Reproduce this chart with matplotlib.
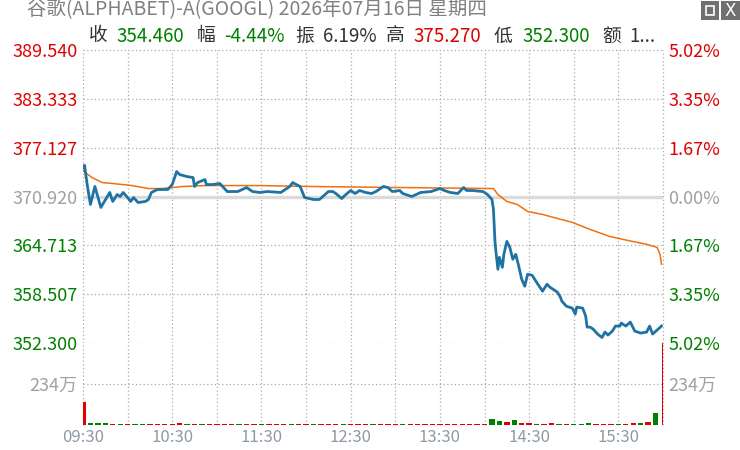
import matplotlib
matplotlib.use('Agg')
import matplotlib.pyplot as plt
from matplotlib.patches import Rectangle
import numpy as np

plt.rcParams['font.family'] = ['Noto Sans CJK SC', 'DejaVu Sans']

#-------Dados-------#

titulo = '谷歌(ALPHABET)-A(GOOGL) 2026年07月16日 星期四'

# minutos desde 09:30 e preço
preco_t = [0, 1, 3, 5, 8, 12, 18, 20, 23, 25, 27, 30, 32, 34, 37, 42, 44, 46, 50, 57,
           60, 63, 65, 70, 74, 75, 77, 82, 83, 87, 92, 97, 104, 110, 114, 119, 124, 133, 139, 141,
           146, 149, 155, 159, 165, 168, 170, 174, 176, 180, 183, 186, 190, 194, 197, 202, 205, 208, 213, 215,
           221, 224, 227, 234, 240, 243, 247, 252, 256, 258, 262, 269, 272, 275, 276, 277, 278, 279, 280, 282,
           283, 285, 287, 289, 291, 293, 295, 297, 299, 302, 305, 309, 312, 314, 319, 321, 322, 325, 329, 331,
           332, 336, 338, 339, 341, 343, 346, 349, 351, 353, 356, 358, 361, 362, 365, 368, 371, 375, 379, 381,
           383, 386, 389]
preco = [374.60, 374.90, 372.20, 369.91, 372.19, 369.53, 371.43, 370.29, 371.17, 370.92, 371.43, 370.79, 370.29, 370.79, 370.16, 370.29, 370.54, 371.43, 371.81, 371.81,
         372.44, 374.09, 373.71, 373.45, 373.33, 372.19, 372.69, 373.07, 372.44, 372.44, 372.57, 371.55, 371.55, 372.06, 371.55, 371.43, 371.55, 371.43, 372.19, 372.69,
         372.19, 370.79, 370.54, 370.54, 371.55, 371.55, 371.30, 370.66, 371.05, 371.68, 371.30, 371.68, 371.43, 371.30, 371.55, 372.19, 372.06, 371.55, 371.68, 371.30,
         370.92, 371.17, 371.43, 371.55, 371.93, 371.68, 371.43, 371.30, 372.06, 371.68, 371.68, 371.55, 371.17, 370.54, 369.27, 365.22, 363.32, 361.67, 363.19, 361.92,
         363.57, 365.22, 364.46, 362.94, 363.57, 362.05, 360.40, 359.52, 361.04, 360.91, 360.02, 358.88, 359.77, 359.39, 358.76, 358.12, 357.62, 356.98, 356.73, 355.97,
         356.86, 356.73, 355.72, 354.32, 354.32, 354.07, 353.44, 353.00, 353.69, 353.31, 353.82, 354.45, 354.45, 354.83, 354.45, 354.96, 353.82, 353.56, 353.69, 354.45,
         353.44, 353.94, 354.46]

# preço médio
media_t = [0, 6, 13, 20, 33, 44, 53, 60, 67, 83, 118, 154, 213, 276, 279, 285, 292, 299, 309, 319,
           329, 341, 354, 366, 379, 386, 388, 389]
media = [374.21, 373.33, 372.69, 372.57, 372.31, 371.93, 371.93, 372.06, 372.19, 372.31, 372.31, 372.19, 372.06, 371.93, 371.17, 370.29, 369.91, 369.02, 368.64, 368.13,
         367.63, 366.74, 365.85, 365.35, 364.84, 364.46, 363.57, 362.31]

# volume (万), um valor a cada 5 minutos; R = sobe, G = desce
vol_t = list(range(0, 390, 5)) + [389.5]
vol = [131, 10, 11, 9, 8, 7, 7, 8, 7, 6, 7, 6, 7, 9, 8, 8, 7, 8, 6, 6,
       6, 6, 6, 6, 6, 7, 6, 6, 6, 7, 6, 6, 6, 6, 6, 7, 6, 6, 7, 6,
       6, 6, 6, 6, 6, 6, 6, 6, 6, 6, 6, 6, 6, 6, 7, 34, 25, 15, 28, 13,
       9, 7, 8, 9, 7, 7, 8, 6, 9, 6, 7, 6, 6, 7, 10, 9, 17, 68, 468]
vol_dir = 'RGGGRGRGGRRRRRGRGRRRRGRRGRRRGRRGRRRGRRRGRRRGRRRRRRRRRRRGGRGRRGRRGRGGGRRRGRRGRGR'

preco_ticks = [389.540, 383.333, 377.127, 370.920, 364.713, 358.507, 352.300]
preco_labels = ['389.540', '383.333', '377.127', '370.920', '364.713', '358.507', '352.300']
pct_labels = ['5.02%', '3.35%', '1.67%', '0.00%', '1.67%', '3.35%', '5.02%']
fecho_ant = 370.920

hora_ticks = [0, 60, 120, 180, 240, 300, 360]
hora_labels = ['09:30', '10:30', '11:30', '12:30', '13:30', '14:30', '15:30']

# linha de informações: (texto, x em pixels, cor)
info = [('收', 89, 'k'), ('354.460', 116, 'g'), ('幅', 197, 'k'), ('-4.44%', 224, 'g'),
        ('振', 295, 'k'), ('6.19%', 323, 'k'), ('高', 386, 'k'), ('375.270', 413, 'r'),
        ('低', 494, 'k'), ('352.300', 522, 'g'), ('额', 602, 'k'), ('1...', 629, 'k')]

#-------Gráfico-------#

W, H = 740, 450
VERMELHO = '#e00000'
VERDE = '#008000'
CINZA = '#a0a0a0'
cores_info = {'k': '#333333', 'g': VERDE, 'r': VERMELHO}
pontilhado = (0, (1, 2))

fig = plt.figure(figsize=(W / 100, H / 100), dpi=100)
fig.patch.set_facecolor('white')

ax = fig.add_axes([83 / W, 1 - 343 / H, 580 / W, 293 / H])
axv = fig.add_axes([83 / W, 1 - 425 / H, 580 / W, 82 / H])

for a in (ax, axv):
    a.set_xlim(0, 390)
    for s in a.spines.values():
        s.set_visible(False)
    for t in list(range(0, 391, 30)):
        a.axvline(t, color='#aaaaaa', lw=0.9, ls=pontilhado, clip_on=False, zorder=1)

ax.set_ylim(352.300, 389.540)
for v in preco_ticks:
    if v == fecho_ant:
        ax.axhline(v, color='#dadada', lw=2.4, zorder=1)
    else:
        ax.axhline(v, color='#aaaaaa', lw=0.9, ls=pontilhado, clip_on=False, zorder=1)

ax.plot(media_t, media, color='#f07010', lw=1.1, zorder=3)
ax.plot(preco_t, preco, color='#1f73a3', lw=2.0, zorder=4)

cores_esq = [VERMELHO] * 3 + [CINZA] + [VERDE] * 3
ax.set_yticks(preco_ticks)
ax.set_yticklabels(preco_labels)
ax.tick_params(axis='y', length=0, pad=4, labelsize=13)
ax.set_xticks([])
for lbl, c in zip(ax.get_yticklabels(), cores_esq):
    lbl.set_color(c)

ax2 = ax.twinx()
ax2.set_ylim(ax.get_ylim())
for s in ax2.spines.values():
    s.set_visible(False)
ax2.set_yticks(preco_ticks)
ax2.set_yticklabels(pct_labels)
ax2.tick_params(axis='y', length=0, pad=4, labelsize=13)
for lbl, c in zip(ax2.get_yticklabels(), cores_esq):
    lbl.set_color(c)

# volume
cores_vol = [VERMELHO if d == 'R' else VERDE for d in vol_dir]
larguras = [3.6] * (len(vol) - 1) + [1.0]
axv.bar(vol_t, vol, width=larguras, color=cores_vol, zorder=3)
axv.set_ylim(0, 468)
axv.axhline(234, color='#aaaaaa', lw=0.9, ls=pontilhado, zorder=1)
axv.set_yticks([234])
axv.set_yticklabels(['234万'])
axv.tick_params(axis='y', length=0, pad=4, labelsize=13, labelcolor=CINZA,
                labelright=True, labelleft=True)
axv.set_xticks(hora_ticks)
axv.set_xticklabels(hora_labels)
axv.tick_params(axis='x', length=0, pad=3, labelsize=12, labelcolor='#909aa5')

# títulos
fig.text(27 / W, 1 - 10 / H, titulo, fontsize=14, color='#808080', va='center', ha='left')
for txt, x, c in info:
    fig.text(x / W, 1 - 36 / H, txt, fontsize=13.5, color=cores_info[c], va='center', ha='left')

# botões no canto
fig.patches.append(Rectangle((701 / W, 1 - 20 / H), 18 / W, 19 / H, transform=fig.transFigure,
                             facecolor='#707070', edgecolor='none'))
fig.patches.append(Rectangle((706 / W, 1 - 15 / H), 8 / W, 9 / H, transform=fig.transFigure,
                             facecolor='none', edgecolor='white', lw=1.2))
fig.patches.append(Rectangle((721 / W, 1 - 20 / H), 19 / W, 19 / H, transform=fig.transFigure,
                             facecolor='#707070', edgecolor='none'))
fig.text(730.5 / W, 1 - 10.5 / H, 'X', fontsize=12, color='white', ha='center', va='center',
         family='DejaVu Sans')

fig.savefig('out.png', dpi=100)
